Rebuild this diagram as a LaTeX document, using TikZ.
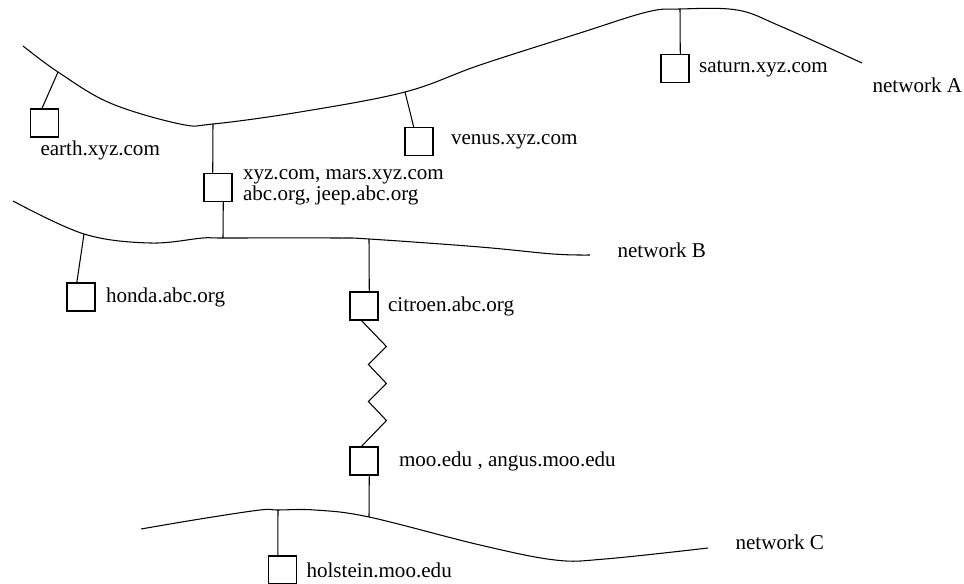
\documentclass[tikz,border=0pt]{standalone}
\usepackage{fontspec}
\setmainfont{Liberation Serif}
\usetikzlibrary{positioning}

\begin{document}
\begin{tikzpicture}[x=0.02cm, y=-0.02cm, line width=0.6pt,
    font=\fontsize{12}{9.2}\selectfont,
    host/.style={draw, minimum size=0.56cm, inner sep=0pt},
    hostlab/.style={inner sep=0pt, align=left},
    wire/.style={smooth, tension=0.6}]
  \useasboundingbox (0,0) rectangle (964,584);
  % taps on the networks
  \coordinate (tA1) at (58,72);
  \coordinate (tA2) at (213,124);
  \coordinate (tA3) at (405,92);
  \coordinate (tA4) at (680,9);
  \coordinate (tB1) at (223,238);
  \coordinate (tB2) at (84,234);
  \coordinate (tB3) at (369,239);
  \coordinate (tC1) at (278,510);
  \coordinate (tC2) at (369,517);
  % the three networks
  \draw plot[wire] coordinates {(23,46) (tA1) (110,103) (180,124) (tA2) (300,112) (tA3)
    (480,65) (580,33) (647,12) (tA4) (737,10) (780,26) (862,63)};
  \draw plot[wire] coordinates {(13,201) (tB2) (150,243) (203,238) (tB1)
    (335,238) (tB3) (480,247) (553,254) (590,255)};
  \draw plot[wire] coordinates {(141,529) (200,519) (260,510) (tC1) (315,510) (tC2)
    (480,545) (555,560) (605,559) (708,548)};
  \node[hostlab, anchor=west] (netA) at (872,85) {network A};
  \node[hostlab, anchor=west] (netB) at (617,250) {network B};
  \node[hostlab, anchor=west] (netC) at (735,542) {network C};

  % hosts
  \node[host] (earth) at (44.5,123) {};
  \node[host] (mars) at (218,187.5) {};
  \node[host] (venus) at (419,141.5) {};
  \node[host] (saturn) at (675,68.5) {};
  \node[host] (honda) at (81,297) {};
  \node[host] (citroen) at (364,306) {};
  \node[host] (moo) at (364,461) {};
  \node[host] (holstein) at (282.5,570) {};

  \node[hostlab, below right=0.6mm and 2mm of earth.south west] (earthlab) {earth.xyz.com};
  \node[hostlab, right=2mm of mars] (marslab) {xyz.com, mars.xyz.com\\abc.org, jeep.abc.org};
  \node[hostlab, right=3.4mm of venus] (venuslab) {venus.xyz.com};
  \node[hostlab, right=1.8mm of saturn] (saturnlab) {saturn.xyz.com};
  \node[hostlab, right=2mm of honda] (hondalab) {honda.abc.org};
  \node[hostlab, right=1.8mm of citroen] (citroenlab) {citroen.abc.org};
  \node[hostlab, right=4mm of moo] (moolab) {moo.edu , angus.moo.edu};
  \node[hostlab, right=1.8mm of holstein] (holsteinlab) {holstein.moo.edu};

  % links
  \draw (tA1) -- (earth.100);
  \draw (tA2) -- (mars.110);
  \draw (mars.-70) -- (tB1);
  \draw (tA3) -- (venus.110);
  \draw (tA4) -- (saturn.70);
  \draw (tB2) -- (honda.106);
  \draw (tB3) -- (citroen.70);
  \draw (citroen.-100) -- ++(25,26) -- ++(-18,18) -- ++(18,19) -- ++(-18,18)
    -- ++(18,19) -- (moo.100);
  \draw (moo.-70) -- (tC2);
  \draw (tC1) -- (holstein.108);
\end{tikzpicture}
\end{document}
